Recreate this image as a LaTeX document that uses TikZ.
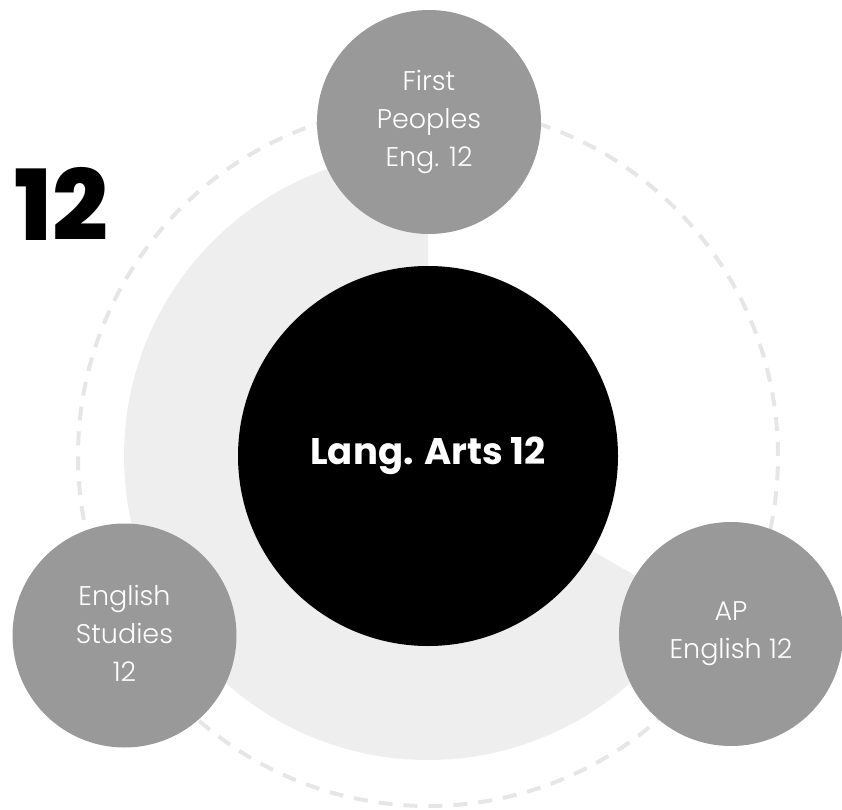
\documentclass[tikz,border=0pt]{standalone}
\usepackage{fontspec}
\setmainfont{Poppins}
\newfontfamily\lightfont{Poppins Light}
\newfontfamily\heavyfont{Poppins ExtraBold}
\definecolor{midgray}{HTML}{999999}
\definecolor{palegray}{HTML}{EEEEEE}
\definecolor{ringgray}{HTML}{E6E6E6}
\begin{document}
\begin{tikzpicture}
      [x=1pt,y=1pt,
       course/.style={circle,fill=midgray,text=white,minimum size=224pt,inner sep=0pt,
         align=center,font=\lightfont\fontsize{27}{38}\selectfont},
       core/.style={circle,fill=black,text=white,minimum size=380pt,inner sep=0pt,
         font=\bfseries\fontsize{37}{44}\selectfont},
       ringline/.style={draw=ringgray,line width=4pt,dash pattern=on 14pt off 11pt}]
      \useasboundingbox (0,0) rectangle (842,809) ;
      \coordinate (hub) at (428,353) ;
      \draw[ringline] (hub) circle[radius=350pt] ;
      \fill[palegray] (hub) -- ++(90:304pt) arc[start angle=90,end angle=330,radius=304pt] -- cycle ;
      \node[core] (langarts) at (hub) {Lang. Arts 12} ;
      \node[course] (firstpeoples) at (429,687) {First\\Peoples\\Eng. 12} ;
      \node[course] (englishstudies) at (124.5,173.5) {\raisebox{6pt}{\begin{tabular}{@{}c@{}}English\\Studies\\12\end{tabular}}} ;
      \node[course] (apenglish) at (731,175) {AP\\English 12} ;
      \node[font=\heavyfont\fontsize{98}{98}\selectfont] (grade) at (61,605) {12} ;
    \end{tikzpicture}
\end{document}
